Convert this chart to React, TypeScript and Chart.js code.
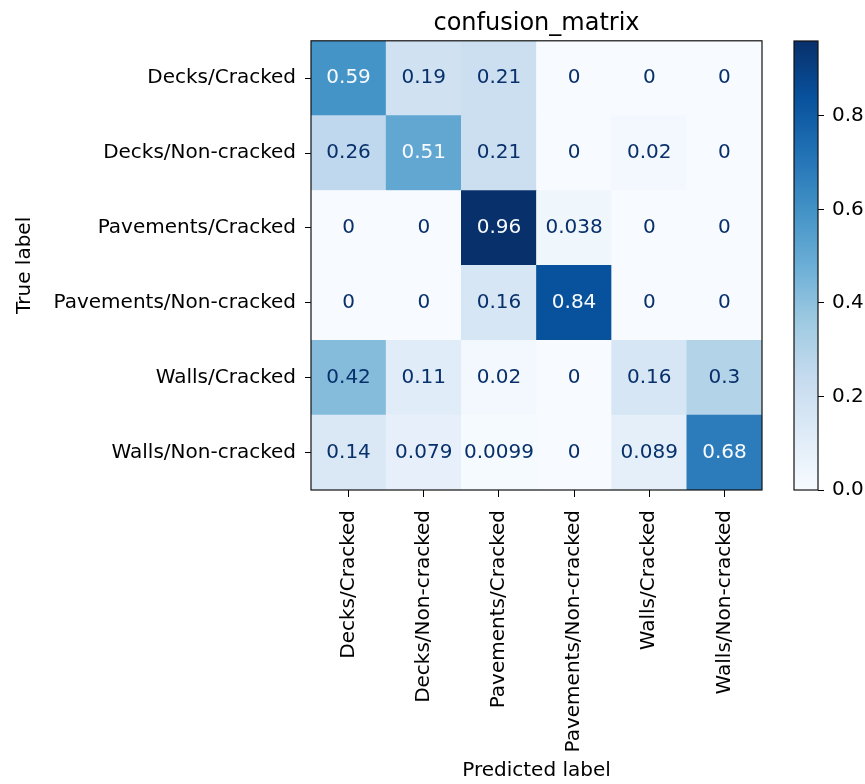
import React, { useEffect, useRef } from 'react';
import { Chart, registerables } from 'chart.js';

Chart.register(...registerables);
Chart.defaults.font.family = "'DejaVu Sans', sans-serif";

// Class names shared by both axes
const TRUE_LABELS = [
  'Decks/Cracked',
  'Decks/Non-cracked',
  'Pavements/Cracked',
  'Pavements/Non-cracked',
  'Walls/Cracked',
  'Walls/Non-cracked',
];
const PREDICTED_LABELS = [
  'Decks/Cracked',
  'Decks/Non-cracked',
  'Pavements/Cracked',
  'Pavements/Non-cracked',
  'Walls/Cracked',
  'Walls/Non-cracked',
];

// Normalised confusion matrix, one array per true class (columns = predicted class)
const ROW_DECKS_CRACKED = [0.59, 0.19, 0.21, 0, 0, 0];
const ROW_DECKS_NONCRACKED = [0.26, 0.51, 0.21, 0, 0.02, 0];
const ROW_PAVEMENTS_CRACKED = [0, 0, 0.96, 0.038, 0, 0];
const ROW_PAVEMENTS_NONCRACKED = [0, 0, 0.16, 0.84, 0, 0];
const ROW_WALLS_CRACKED = [0.42, 0.11, 0.02, 0, 0.16, 0.3];
const ROW_WALLS_NONCRACKED = [0.14, 0.079, 0.0099, 0, 0.089, 0.68];

const MATRIX = [
  ROW_DECKS_CRACKED,
  ROW_DECKS_NONCRACKED,
  ROW_PAVEMENTS_CRACKED,
  ROW_PAVEMENTS_NONCRACKED,
  ROW_WALLS_CRACKED,
  ROW_WALLS_NONCRACKED,
];

const COLORBAR_TICKS = [0, 0.2, 0.4, 0.6, 0.8];

// "Blues" sequential palette stops
const BLUES = [
  '#f7fbff', '#deebf7', '#c6dbef', '#9ecae1', '#6baed6',
  '#4292c6', '#2171b5', '#08519c', '#08306b',
];

const VMIN = Math.min(...MATRIX.flat());
const VMAX = Math.max(...MATRIX.flat());
const THRESH = (VMIN + VMAX) / 2;

const hexToRgb = (h: string) => [
  parseInt(h.slice(1, 3), 16),
  parseInt(h.slice(3, 5), 16),
  parseInt(h.slice(5, 7), 16),
];

function blues(t: number): string {
  const c = Math.max(0, Math.min(1, t)) * (BLUES.length - 1);
  const i = Math.min(Math.floor(c), BLUES.length - 2);
  const f = c - i;
  const a = hexToRgb(BLUES[i]);
  const b = hexToRgb(BLUES[i + 1]);
  const m = a.map((av, k) => Math.round(av + (b[k] - av) * f));
  return `rgb(${m[0]},${m[1]},${m[2]})`;
}

const norm = (v: number) => (v - VMIN) / (VMAX - VMIN);

// general-format with two significant digits
const fmt = (v: number) => (v === 0 ? '0' : String(Number(v.toPrecision(2))));

const FONT_SIZE = 20;
const INK = '#000';

const framePlugin = {
  id: 'frame',
  afterDatasetsDraw(chart: any) {
    const { ctx, chartArea } = chart;
    ctx.save();
    ctx.strokeStyle = '#111';
    ctx.lineWidth = 1.2;
    ctx.strokeRect(chartArea.left, chartArea.top, chartArea.right - chartArea.left, chartArea.bottom - chartArea.top);
    ctx.restore();
  },
};

const cellTextPlugin = {
  id: 'cellText',
  afterDatasetsDraw(chart: any) {
    const { ctx } = chart;
    ctx.save();
    ctx.font = `${FONT_SIZE}px 'DejaVu Sans', sans-serif`;
    ctx.textAlign = 'center';
    ctx.textBaseline = 'middle';
    chart.data.datasets.forEach((ds: any, di: number) => {
      const meta = chart.getDatasetMeta(di);
      const values: number[] = ds.cellValues;
      meta.data.forEach((bar: any, ci: number) => {
        const { x, y, base } = bar.getProps(['x', 'y', 'base'], true);
        const v = values[ci];
        ctx.fillStyle = v < THRESH ? BLUES[BLUES.length - 1] : BLUES[0];
        ctx.fillText(fmt(v), x, (y + base) / 2);
      });
    });
    ctx.restore();
  },
};

export default function App() {
  const mainRef = useRef<HTMLCanvasElement | null>(null);
  const barRef = useRef<HTMLCanvasElement | null>(null);

  useEffect(() => {
    if (!mainRef.current || !barRef.current) return;
    const n = TRUE_LABELS.length;

    // stack rows bottom-up: last true class first
    const datasets = TRUE_LABELS.map((_, k) => {
      const r = n - 1 - k;
      return {
        label: TRUE_LABELS[r],
        data: PREDICTED_LABELS.map(() => 1),
        cellValues: MATRIX[r],
        backgroundColor: MATRIX[r].map((v) => blues(norm(v))),
        borderWidth: 0,
        barPercentage: 1,
        categoryPercentage: 1,
      };
    });

    const main = new Chart(mainRef.current, {
      type: 'bar',
      data: { labels: PREDICTED_LABELS, datasets: datasets as any },
      options: {
        responsive: false,
        animation: false,
        layout: { padding: { left: 0, right: 103, top: 0, bottom: 0 } },
        plugins: {
          legend: { display: false },
          tooltip: { enabled: false },
          title: {
            display: true,
            text: 'confusion_matrix',
            fullSize: false,
            color: INK,
            font: { size: 24, weight: 'normal' },
            padding: { top: 9, bottom: 3 },
          },
        },
        scales: {
          x: {
            type: 'category',
            stacked: true,
            offset: true,
            afterFit: (axis: any) => {
              axis.height = 294;
            },
            ticks: {
              autoSkip: false,
              minRotation: 90,
              maxRotation: 90,
              padding: 13,
              color: INK,
              font: { size: FONT_SIZE },
            },
            grid: { offset: false, drawOnChartArea: false, drawTicks: true, tickLength: 7, color: INK },
            border: { display: false },
            title: {
              display: true,
              text: 'Predicted label',
              color: INK,
              font: { size: FONT_SIZE },
              padding: { top: 0, bottom: 1 },
            },
          },
          y: {
            type: 'linear',
            stacked: true,
            min: 0,
            max: n,
            afterBuildTicks: (axis: any) => {
              axis.ticks = TRUE_LABELS.map((_, i) => ({ value: i + 0.5 }));
            },
            afterFit: (axis: any) => {
              axis.width = 311;
            },
            ticks: {
              autoSkip: false,
              padding: 9,
              color: INK,
              font: { size: FONT_SIZE },
              callback: (_v: any, i: number) => TRUE_LABELS[n - 1 - i],
            },
            grid: { drawOnChartArea: false, drawTicks: true, tickLength: 6, color: INK },
            border: { display: false },
            title: {
              display: true,
              text: 'True label',
              color: INK,
              font: { size: FONT_SIZE },
              padding: { top: 13, bottom: 0 },
            },
          },
        },
      } as any,
      plugins: [framePlugin, cellTextPlugin],
    });

    const colorbar = new Chart(barRef.current, {
      type: 'bar',
      data: {
        labels: [''],
        datasets: [
          {
            data: [VMAX],
            borderWidth: 0,
            barPercentage: 1,
            categoryPercentage: 1,
            backgroundColor: (c: any) => {
              const ch = c.chart;
              const ys = ch.scales.y;
              if (!ys || !ch.chartArea) return BLUES[4];
              const g = ch.ctx.createLinearGradient(0, ys.getPixelForValue(VMIN), 0, ys.getPixelForValue(VMAX));
              BLUES.forEach((col, i) => g.addColorStop(i / (BLUES.length - 1), col));
              return g;
            },
          },
        ],
      },
      options: {
        responsive: false,
        animation: false,
        layout: { padding: { left: 14, right: 0, top: 41, bottom: 294 } },
        plugins: { legend: { display: false }, tooltip: { enabled: false } },
        scales: {
          x: { display: false, offset: true },
          y: {
            position: 'right',
            min: VMIN,
            max: VMAX,
            afterBuildTicks: (axis: any) => {
              axis.ticks = COLORBAR_TICKS.map((v) => ({ value: v }));
            },
            afterFit: (axis: any) => {
              axis.width = 47;
            },
            ticks: {
              padding: 8,
              color: INK,
              font: { size: FONT_SIZE },
              callback: (v: any) => Number(v).toFixed(1),
            },
            grid: { drawOnChartArea: false, drawTicks: true, tickLength: 6, color: INK },
            border: { display: false },
          },
        },
      } as any,
      plugins: [framePlugin],
    });

    return () => {
      main.destroy();
      colorbar.destroy();
    };
  }, []);

  return (
    <div style={{ position: 'absolute', left: 0, top: 0, width: 865, height: 784, background: '#fff' }}>
      <canvas ref={mainRef} width={865} height={784} style={{ position: 'absolute', left: 0, top: 0 }} />
      <canvas ref={barRef} width={85} height={784} style={{ position: 'absolute', left: 780, top: 0 }} />
    </div>
  );
}
